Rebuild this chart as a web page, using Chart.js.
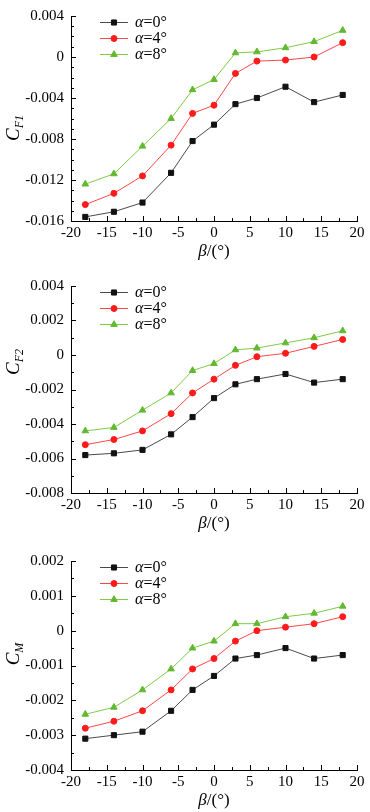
<!DOCTYPE html>
<html>
<head>
<meta charset="utf-8">
<script src="https://cdn.jsdelivr.net/npm/chart.js@4.4.1/dist/chart.umd.min.js"></script>
<style>
  html, body { margin: 0; padding: 0; background: #fff; }
  body { width: 370px; height: 812px; position: relative; overflow: hidden; }
  canvas { position: absolute; left: 0; }
</style>
</head>
<body>
<canvas id="chartF1" width="370" height="270" style="top:0px"></canvas>
<canvas id="chartF2" width="370" height="270" style="top:270px"></canvas>
<canvas id="chartM" width="370" height="272" style="top:540px"></canvas>
<script>
// sideslip angle beta (deg)
const beta = [-18, -14, -10, -6, -3, 0, 3, 6, 10, 14, 18];
const seriesLabels = ['0°', '4°', '8°'];

// C_F1
const cf1Alpha0 = [-0.0156, -0.0151, -0.0142, -0.0113, -0.0082, -0.0066, -0.0046, -0.0040, -0.0029, -0.0044, -0.0037];
const cf1Alpha4 = [-0.0144, -0.0133, -0.0116, -0.0086, -0.0055, -0.0047, -0.0016, -0.0004, -0.0003, 0.0000, 0.0014];
const cf1Alpha8 = [-0.0124, -0.0114, -0.0087, -0.0060, -0.0032, -0.0022, 0.0004, 0.0005, 0.0009, 0.0015, 0.0026];

// C_F2
const cf2Alpha0 = [-0.0058, -0.0057, -0.0055, -0.0046, -0.0036, -0.0025, -0.0017, -0.0014, -0.0011, -0.0016, -0.0014];
const cf2Alpha4 = [-0.0052, -0.0049, -0.0044, -0.0034, -0.0022, -0.0014, -0.0006, -0.0001, 0.0001, 0.0005, 0.0009];
const cf2Alpha8 = [-0.0044, -0.0042, -0.0032, -0.0022, -0.0009, -0.0005, 0.0003, 0.0004, 0.0007, 0.0010, 0.0014];

// C_M
const cmAlpha0 = [-0.0031, -0.0030, -0.0029, -0.0023, -0.0017, -0.0013, -0.0008, -0.0007, -0.0005, -0.0008, -0.0007];
const cmAlpha4 = [-0.0028, -0.0026, -0.0023, -0.0017, -0.0011, -0.0008, -0.0003, 0.0000, 0.0001, 0.0002, 0.0004];
const cmAlpha8 = [-0.0024, -0.0022, -0.0017, -0.0011, -0.0005, -0.0003, 0.0002, 0.0002, 0.0004, 0.0005, 0.0007];

// axis ranges
const xRange = [-20, 20];
const cf1Range = [-0.016, 0.004];
const cf2Range = [-0.008, 0.004];
const cmRange = [-0.004, 0.002];

const serif = '"Liberation Serif", "Times New Roman", serif';

const styles = [
  { line: '#4a4a4a', mark: '#111111', shape: 'rect', r: 3.6 },
  { line: '#ff4646', mark: '#ff1a1a', shape: 'circle', r: 3 },
  { line: '#7ccc46', mark: '#62b830', shape: 'triangle', r: 3.8 }
];

// inward tick marks on both axes
const innerTicks = {
  id: 'innerTicks',
  afterDraw(chart) {
    const ctx = chart.ctx;
    ctx.save();
    ctx.strokeStyle = '#000';
    ctx.lineWidth = 1;
    const xs = chart.scales.x, ys = chart.scales.y;
    xs.ticks.forEach(t => {
      const px = Math.round(xs.getPixelForValue(t.value)) + 0.5;
      const len = t.label !== '' ? 5 : 3;
      ctx.beginPath();
      ctx.moveTo(px, xs.top);
      ctx.lineTo(px, xs.top - len);
      ctx.stroke();
    });
    ys.ticks.forEach(t => {
      const py = Math.round(ys.getPixelForValue(t.value)) + 0.5;
      const len = t.label !== '' ? 5 : 3;
      ctx.beginPath();
      ctx.moveTo(ys.right, py);
      ctx.lineTo(ys.right + len, py);
      ctx.stroke();
    });
    ctx.restore();
  }
};

// axis titles with italic symbols and subscripts
const axisTitles = {
  id: 'axisTitles',
  afterDraw(chart, args, opts) {
    const ctx = chart.ctx;
    const area = chart.chartArea;
    ctx.save();
    ctx.fillStyle = '#000';

    // x title: beta/(deg)
    const xc = (area.left + area.right) / 2;
    const yb = area.bottom + 35;
    ctx.textBaseline = 'alphabetic';
    ctx.font = 'italic 17px ' + serif;
    const wb = ctx.measureText('β').width;
    ctx.font = '17px ' + serif;
    const wr = ctx.measureText('/(°)').width;
    let x0 = xc - (wb + wr) / 2;
    ctx.font = 'italic 17px ' + serif;
    ctx.fillText('β', x0, yb);
    ctx.font = '17px ' + serif;
    ctx.fillText('/(°)', x0 + wb, yb);

    // y title: C with subscript, rotated
    ctx.translate(opts.yx, opts.yy);
    ctx.rotate(-Math.PI / 2);
    ctx.font = 'italic 19px ' + serif;
    const wc = ctx.measureText('C').width;
    ctx.font = 'italic 12px ' + serif;
    const ws = ctx.measureText(opts.sub).width;
    x0 = -(wc + ws) / 2;
    ctx.font = 'italic 19px ' + serif;
    ctx.fillText('C', x0, 6);
    ctx.font = 'italic 12px ' + serif;
    ctx.fillText(opts.sub, x0 + wc, 10);
    ctx.restore();
  }
};

// legend: line + marker + label, inside the plot
const lineLegend = {
  id: 'lineLegend',
  afterDraw(chart) {
    const ctx = chart.ctx;
    const area = chart.chartArea;
    ctx.save();
    chart.data.datasets.forEach((ds, i) => {
      const y = area.top + 6 + i * 16;
      const st = styles[i];
      ctx.strokeStyle = st.line;
      ctx.lineWidth = 1;
      ctx.beginPath();
      ctx.moveTo(100, y + 0.5);
      ctx.lineTo(128, y + 0.5);
      ctx.stroke();
      ctx.fillStyle = st.mark;
      ctx.strokeStyle = st.mark;
      Chart.helpers.drawPoint(ctx, { pointStyle: st.shape, radius: st.r, rotation: 0, borderWidth: 1 }, 114, y + 0.5);
      ctx.fillStyle = '#000';
      ctx.textBaseline = 'middle';
      ctx.font = 'italic 16px ' + serif;
      ctx.fillText('α', 135, y + 1);
      const wa = ctx.measureText('α').width;
      ctx.font = '16px ' + serif;
      ctx.fillText('=' + seriesLabels[i], 135 + wa, y + 1);
    });
    ctx.restore();
  }
};

function makeChart(id, series, yRange, majorStep, minorStep, box) {
  const datasets = series.map((vals, i) => ({
    label: 'α=' + seriesLabels[i],
    data: beta.map((b, k) => ({ x: b, y: vals[k] })),
    borderColor: styles[i].line,
    borderWidth: 1,
    pointStyle: styles[i].shape,
    pointRadius: styles[i].r,
    pointBackgroundColor: styles[i].mark,
    pointBorderColor: styles[i].mark,
    pointBorderWidth: 1,
    tension: 0
  }));
  const canvas = document.getElementById(id);
  return new Chart(canvas.getContext('2d'), {
    type: 'line',
    data: { datasets },
    options: {
      responsive: false,
      animation: false,
      devicePixelRatio: 1,
      layout: { padding: { top: box.top, right: 13, bottom: 0, left: 0 } },
      plugins: {
        legend: { display: false },
        tooltip: { enabled: false },
        axisTitles: { sub: box.sub, yx: 13, yy: box.titleY }
      },
      scales: {
        x: {
          type: 'linear',
          min: xRange[0],
          max: xRange[1],
          grid: { display: false, drawTicks: false },
          border: { display: true, color: '#000', width: 1 },
          ticks: {
            stepSize: 2.5,
            autoSkip: false,
            maxRotation: 0,
            padding: 3,
            color: '#000',
            font: { family: serif, size: 15 },
            callback: v => (v % 5 === 0 ? String(v) : '')
          },
          afterFit: s => { s.height = canvas.height - box.bottom; }
        },
        y: {
          type: 'linear',
          min: yRange[0],
          max: yRange[1],
          grid: { display: false, drawTicks: false },
          border: { display: true, color: '#000', width: 1 },
          ticks: {
            stepSize: minorStep,
            autoSkip: false,
            padding: 7,
            color: '#000',
            font: { family: serif, size: 15 },
            callback: v => {
              const q = v / majorStep;
              if (Math.abs(q - Math.round(q)) > 1e-6) return '';
              return Math.abs(v) < 1e-9 ? '0' : v.toFixed(3);
            }
          },
          afterFit: s => { s.width = 71; }
        }
      }
    },
    plugins: [innerTicks, axisTitles, lineLegend]
  });
}

makeChart('chartF1', [cf1Alpha0, cf1Alpha4, cf1Alpha8], cf1Range, 0.004, 0.001,
  { top: 12, bottom: 221, sub: 'F1', titleY: 128 });
makeChart('chartF2', [cf2Alpha0, cf2Alpha4, cf2Alpha8], cf2Range, 0.002, 0.001,
  { top: 16, bottom: 223, sub: 'F2', titleY: 92 });
makeChart('chartM', [cmAlpha0, cmAlpha4, cmAlpha8], cmRange, 0.001, 0.0005,
  { top: 21, bottom: 230, sub: 'M', titleY: 114 });
</script>
</body>
</html>
